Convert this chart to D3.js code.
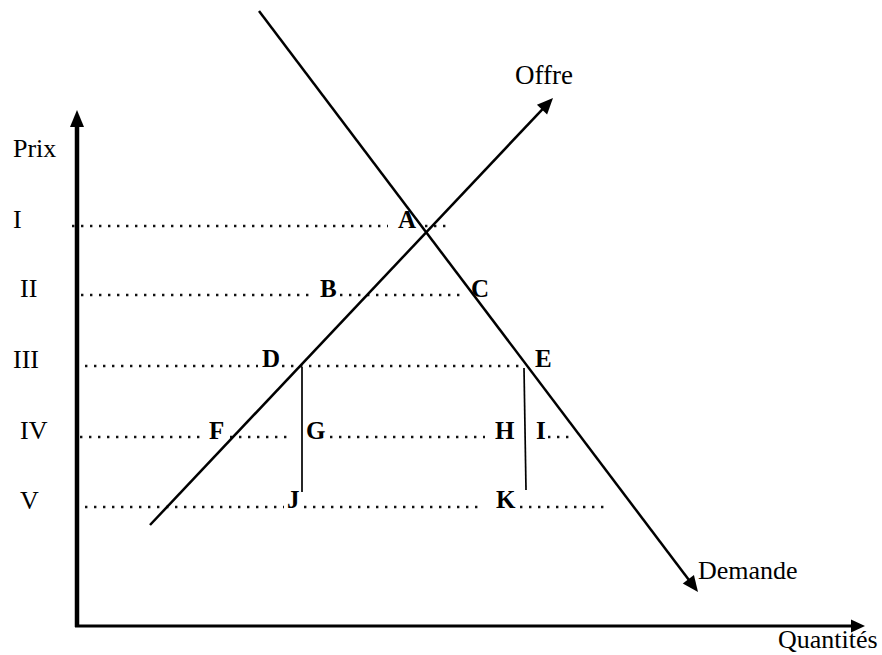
<!DOCTYPE html>
<html><head><meta charset="utf-8">
<script src="https://cdn.jsdelivr.net/npm/d3@7"></script>
<style>body{margin:0;background:#fff}svg{display:block}</style>
</head><body>
<script>
// Price levels (roman numerals) and their price values
const levelLabels = ["I", "II", "III", "IV", "V"];
const levelPrices = [400, 331, 260, 189, 119];
// Dotted guide segments per level: [qStart, qEnd]
const levelSegments = [
  [[-5, 311], [348, 370]],
  [[4, 238], [263, 388]],
  [[8, 181], [205, 443]],
  [[3, 128], [153, 213], [253, 408], [471, 493]],
  [[8, 207], [227, 407], [443, 531]]
];
// Curves: [q, p] endpoints
const demand = [[182, 615], [621, 34]];
const supply = [[73, 101], [476, 528]];
// Vertical segments D–J and E–K
const verticals = [[[225, 259], [225, 134]], [[447, 258], [449, 136]]];
// Point letters: name, q, price (baseline)
const pointNames = ["A", "B", "C", "D", "E", "F", "G", "H", "I", "J", "K"];
const pointQ = [321, 243, 394, 185, 458, 132, 229, 418, 459, 210, 419];
const pointP = [398, 329, 329, 259, 259, 187, 187, 187, 187, 118, 118];

const W = 882, H = 655;
const x = d3.scaleLinear().domain([0, 788]).range([77, 865]);
const y = d3.scaleLinear().domain([0, 514]).range([626, 112]);

const svg = d3.select("body").append("svg").attr("width", W).attr("height", H);
const serif = "'Liberation Serif','Times New Roman',serif";

function arrowHead(x1, y1, x2, y2, len, half) {
  const a = Math.atan2(y2 - y1, x2 - x1);
  const bx = x2 - len * Math.cos(a), by = y2 - len * Math.sin(a);
  const px = -Math.sin(a) * half, py = Math.cos(a) * half;
  svg.append("path")
    .attr("d", `M${x2},${y2}L${bx + px},${by + py}L${bx - px},${by - py}Z`)
    .attr("fill", "#000");
}

// Dotted guide lines
levelSegments.forEach((segs, i) => {
  segs.forEach(s => {
    svg.append("line")
      .attr("x1", x(s[0])).attr("x2", x(s[1]))
      .attr("y1", y(levelPrices[i])).attr("y2", y(levelPrices[i]))
      .attr("stroke", "#111").attr("stroke-width", 2.4)
      .attr("stroke-dasharray", "2.4,6.6");
  });
});

// Axes
svg.append("line").attr("x1", x(0)).attr("x2", x(0)).attr("y1", y(0) + 1).attr("y2", y(514) + 6)
  .attr("stroke", "#000").attr("stroke-width", 4.5);
arrowHead(x(0), y(0), x(0), y(514) - 2, 17, 7);
svg.append("line").attr("x1", x(0) - 2).attr("x2", x(774)).attr("y1", y(0)).attr("y2", y(0))
  .attr("stroke", "#000").attr("stroke-width", 2.8);
arrowHead(x(0), y(0), x(788), y(0), 14, 6.5);

// Demand and supply
[demand, supply].forEach(c => {
  const [a, b] = c;
  const X1 = x(a[0]), Y1 = y(a[1]), X2 = x(b[0]), Y2 = y(b[1]);
  const ang = Math.atan2(Y2 - Y1, X2 - X1);
  svg.append("line").attr("x1", X1).attr("y1", Y1)
    .attr("x2", X2 - 10 * Math.cos(ang)).attr("y2", Y2 - 10 * Math.sin(ang))
    .attr("stroke", "#000").attr("stroke-width", 2.5);
  arrowHead(X1, Y1, X2, Y2, 16, 7);
});

// Verticals
verticals.forEach(v => {
  svg.append("line").attr("x1", x(v[0][0])).attr("y1", y(v[0][1]))
    .attr("x2", x(v[1][0])).attr("y2", y(v[1][1]))
    .attr("stroke", "#000").attr("stroke-width", 1.7);
});

// Level labels
const levelX = [13, 20, 13, 20, 20];
svg.append("text").attr("x", 13).attr("y", 157).text("Prix")
  .attr("font-family", serif).attr("font-size", 26);
levelLabels.forEach((l, i) => {
  svg.append("text").attr("x", levelX[i]).attr("y", y(levelPrices[i]) + 2).text(l)
    .attr("font-family", serif).attr("font-size", 26);
});

// Point letters
pointNames.forEach((n, i) => {
  svg.append("text").attr("x", x(pointQ[i])).attr("y", y(pointP[i])).text(n)
    .attr("font-family", serif).attr("font-size", 25).attr("font-weight", "bold");
});

// Curve and axis titles
svg.append("text").attr("x", 515).attr("y", 84).text("Offre").attr("font-family", serif).attr("font-size", 27);
svg.append("text").attr("x", 698).attr("y", 579).text("Demande").attr("font-family", serif).attr("font-size", 26);
svg.append("text").attr("x", 778).attr("y", 648).text("Quantités").attr("font-family", serif).attr("font-size", 26);
</script>
</body></html>
